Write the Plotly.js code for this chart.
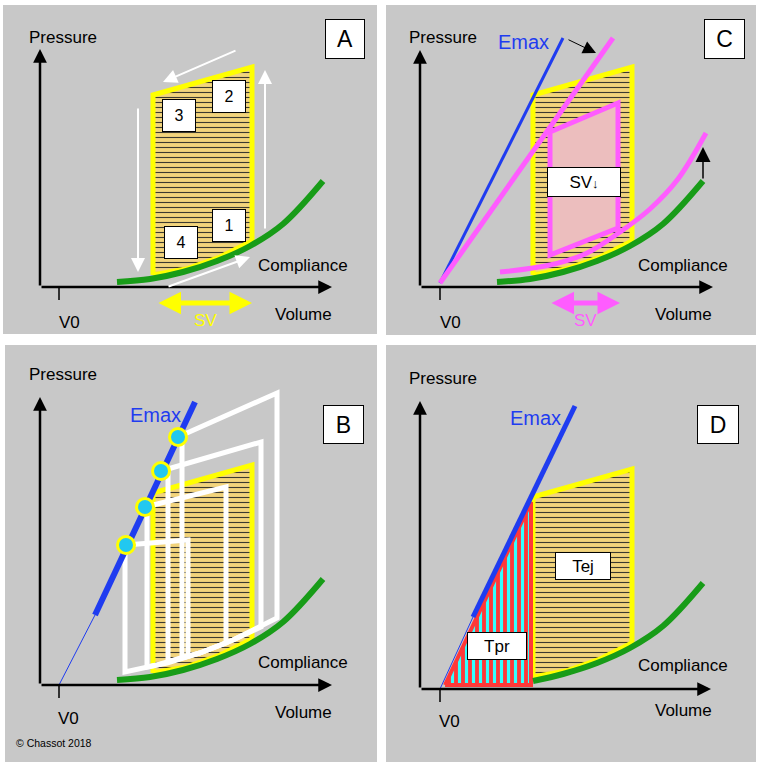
<!DOCTYPE html>
<html><head><meta charset="utf-8">
<script src="https://cdn.plot.ly/plotly-3.0.1.min.js"></script>
<style>html,body{margin:0;padding:0;background:#fff}#chart{width:766px;height:766px}</style>
</head><body><div id="chart"></div>
<script>
// ---------- schematic data (Volume, Pressure in arbitrary units; origin = axis origin) ----------
// shared end-diastolic compliance curve and the yellow reference P-V loop
const complianceV = [77, 110, 143, 177, 210, 243, 283];
const complianceP = [5, 8, 15, 26, 41, 63, 106];
const loopV = [113, 113, 212, 212, 180, 146, 113];
const loopP = [12, 192, 220, 46, 30, 18, 12];
const v0 = [19, 20, 19, 20];            // V0 position per panel (A, C, B, D)
const axisEndV = [292, 293, 292, 291];  // volume axis arrow tip
const axisEndP = [238, 237, 288, 288];  // pressure axis arrow tip

// Panel A: phases of the cycle
const phaseLabels = ['1', '2', '3', '4'];
const phaseV = [189, 189, 138.5, 140.5];
const phaseP = [61.5, 190.5, 171.5, 44.5];
const cycleTailV = [225, 197, 98, 127];
const cycleTailP = [57, 237, 180, 0];
const cycleHeadV = [225, 123, 98, 210];
const cycleHeadP = [217, 205, 15, 30];
const svA = [117, 212];

// Panel C: reduced contractility, stiffer ventricle
const emaxCV = [20, 143], emaxCP = [4, 249];
const emaxShiftV = [20, 193], emaxShiftP = [4, 249];
const pinkLoopV = [130, 198, 198, 130, 130];
const pinkLoopP = [155, 184, 59, 32, 155];
const complianceShiftV = [80, 130, 165, 200, 230, 258, 286];
const complianceShiftP = [15, 22, 33, 55, 78, 108, 154];
const svC = [130, 200];

// Panel B: family of loops on Emax
const emaxBThinV = [19, 55], emaxBThinP = [0, 70];
const emaxBV = [55, 155], emaxBP = [70, 283];
const endSystoleV = [86, 105, 121, 138];
const endSystoleP = [140, 178, 214, 248];
const whiteLoopsV = [
  [86, 148, 148, 117, 85, 85],
  [105, 186, 186, 160, 127, 107, 107],
  [121, 221, 221, 193, 160, 128, 128],
  [138, 237, 237, 193, 160, 142, 142]
];
const whiteLoopsP = [
  [140, 145, 29, 20, 13, 140],
  [178, 198, 42, 32, 22, 18, 179],
  [214, 243, 58, 45, 32, 23, 216],
  [248, 292, 67, 45, 32, 27, 250]
];

// Panel D: pressure-time (Tpr) and ejection (Tej) areas
const emaxDThinV = [20, 53], emaxDThinP = [0, 72];
const emaxDV = [53, 155], emaxDP = [72, 283];
const tprV = [25, 111, 111, 25], tprP = [4, 187, 4, 4];

// ---------- styles ----------
const FONT = 'Arial, "Liberation Sans", sans-serif';
const GREEN = '#189c18', YELLOW = '#ffff00', BLUE = '#1f3cf0', PINK = '#ff5cff';
const axIds = ['', '2', '3', '4'];   // A, C, B, D
const traces = [];
const ann = [];

function line(k, v, p, color, width, extra) {
  traces.push(Object.assign({
    x: v, y: p, xaxis: 'x' + axIds[k], yaxis: 'y' + axIds[k], mode: 'lines',
    line: {color: color, width: width}, hoverinfo: 'skip', showlegend: false
  }, extra || {}));
}
function label(k, v, p, txt, size, color, extra) {
  ann.push(Object.assign({
    xref: 'x' + axIds[k], yref: 'y' + axIds[k], x: v, y: p, text: txt, showarrow: false,
    font: {family: FONT, size: size, color: color || '#000'}, xanchor: 'center', yanchor: 'middle'
  }, extra || {}));
}
function box(k, v, p, txt, w, h, size) {
  label(k, v, p, txt, size, '#000', {bgcolor: '#fff', bordercolor: '#000', borderwidth: 1,
    borderpad: 0, width: w, height: h});
}
function arrow(k, tv, tp, hv, hp, color, width, size, dbl) {
  const a = {
    xref: 'x' + axIds[k], yref: 'y' + axIds[k], axref: 'x' + axIds[k], ayref: 'y' + axIds[k],
    x: hv, y: hp, ax: tv, ay: tp, text: '', showarrow: true,
    arrowcolor: color, arrowwidth: width, arrowhead: 2, arrowsize: size, standoff: 0
  };
  if (dbl) { a.arrowside = 'end+start'; a.startarrowhead = 2; a.startarrowsize = size; a.startstandoff = 0; }
  ann.push(a);
}
function yellowLoop(k) {
  line(k, loopV, loopP, YELLOW, 5, {fill: 'toself', fillcolor: '#f2d47c',
    fillpattern: {shape: '-', bgcolor: '#f2d47c', fgcolor: '#3c3a30', size: 5, solidity: 0.22}});
}
function frame(k, pressureLbl, volumeLbl, complianceLbl, v0Lbl) {
  arrow(k, 0, 0, 0, axisEndP[k], '#000', 2.5, 1.1);
  arrow(k, 0, 0, axisEndV[k], 0, '#000', 2.5, 1.1);
  line(k, [v0[k], v0[k]], [0, -13], '#000', 1.5);
  label(k, pressureLbl[0], pressureLbl[1], 'Pressure', 17);
  label(k, volumeLbl[0], volumeLbl[1], 'Volume', 17);
  label(k, complianceLbl[0], complianceLbl[1], 'Compliance', 17);
  label(k, v0Lbl[0], v0Lbl[1], 'V0', 17);
}
const SPLINE = (c, w) => ({line: {color: c, width: w, shape: 'spline', smoothing: 1}});

// ---------- Panel A ----------
yellowLoop(0);
line(0, complianceV, complianceP, GREEN, 6, SPLINE(GREEN, 6));
frame(0, [23, 249], [263, -27], [263, 22], [29, -35]);
for (let i = 0; i < cycleTailV.length; i++)
  arrow(0, cycleTailV[i], cycleTailP[i], cycleHeadV[i], cycleHeadP[i], '#fff', 2, 1.4);
for (let i = 0; i < phaseLabels.length; i++)
  box(0, phaseV[i], phaseP[i], phaseLabels[i], 32, 31, 16);
arrow(0, svA[0], -16, svA[1], -16, YELLOW, 5, 0.9, true);
label(0, (svA[0] + svA[1]) / 2 + 0.5, -33, 'SV', 17, YELLOW);
box(0, 305, 248, 'A', 38, 38, 23);

// ---------- Panel C ----------
yellowLoop(1);
line(1, pinkLoopV, pinkLoopP, PINK, 5, {fill: 'toself', fillcolor: '#ecbebe'});
line(1, complianceV, complianceP, GREEN, 6, SPLINE(GREEN, 6));
line(1, complianceShiftV, complianceShiftP, PINK, 5, SPLINE(PINK, 5));
line(1, emaxCV, emaxCP, BLUE, 3);
line(1, emaxShiftV, emaxShiftP, PINK, 5);
frame(1, [23, 249], [263, -27], [263, 22], [30, -35]);
label(1, 103, 245, 'Emax', 20, BLUE);
arrow(1, 147, 248, 176, 234, '#000', 1, 2.6);
arrow(1, 283, 107, 283, 140, '#000', 1.5, 2.0);
box(1, 164, 105, 'SV<span style="font-size:13px">↓</span>', 72, 28, 17);
arrow(1, svC[0], -16, svC[1], -16, PINK, 5, 0.9, true);
label(1, (svC[0] + svC[1]) / 2, -33, 'SV', 17, PINK);
box(1, 304.5, 248, 'C', 39, 38, 23);

// ---------- Panel B ----------
yellowLoop(2);
line(2, complianceV, complianceP, GREEN, 6, SPLINE(GREEN, 6));
for (let i = 0; i < whiteLoopsV.length; i++) line(2, whiteLoopsV[i], whiteLoopsP[i], '#fff', 5);
line(2, emaxBThinV, emaxBThinP, BLUE, 1);
line(2, emaxBV, emaxBP, BLUE, 6);
traces.push({x: endSystoleV, y: endSystoleP, xaxis: 'x3', yaxis: 'y3', mode: 'markers',
  marker: {size: 17, color: '#22c8f0', line: {color: YELLOW, width: 3}}, hoverinfo: 'skip', showlegend: false});
frame(2, [23, 311], [263, -27], [263, 23], [28, -33]);
label(2, 115, 270, 'Emax', 20, BLUE);
label(2, 14, -58, '© Chassot 2018', 10.5, '#000');
box(2, 303.5, 260.5, 'B', 39, 37, 23);

// ---------- Panel D ----------
yellowLoop(3);
line(3, tprV, tprP, '#ff3838', 4, {fill: 'toself', fillcolor: '#ff3838',
  fillpattern: {shape: '|', bgcolor: '#ff3838', fgcolor: '#33ffff', size: 7, solidity: 0.45}});
line(3, complianceV.slice(1).map((v, i) => i === 0 ? 113 : v), complianceP.slice(1), GREEN, 6, SPLINE(GREEN, 6));
line(3, emaxDThinV, emaxDThinP, BLUE, 1);
line(3, emaxDV, emaxDP, BLUE, 5);
frame(3, [23, 311], [263, -21], [263, 24], [29, -32]);
label(3, 115, 271, 'Emax', 20, BLUE);
box(3, 77, 43, 'Tpr', 58, 26, 17);
box(3, 163, 123, 'Tej', 54, 26, 17);
box(3, 298, 264.5, 'D', 40, 37, 23);

// ---------- layout ----------
function ax(domain, range) {
  return {domain: domain, range: range, visible: false, fixedrange: true};
}
const layout = {
  width: 766, height: 766, margin: {l: 0, r: 0, t: 0, b: 0},
  paper_bgcolor: '#ffffff', plot_bgcolor: '#c8c8c8', showlegend: false,
  font: {family: FONT},
  xaxis:  Object.assign(ax([3 / 766, 377 / 766], [-37, 337]), {anchor: 'y'}),
  yaxis:  Object.assign(ax([1 - 334 / 766, 1 - 5 / 766], [-47, 282]), {anchor: 'x'}),
  xaxis2: Object.assign(ax([386 / 766, 756 / 766], [-34, 336]), {anchor: 'y2'}),
  yaxis2: Object.assign(ax([1 - 335 / 766, 1 - 5 / 766], [-48, 282]), {anchor: 'x2'}),
  xaxis3: Object.assign(ax([5 / 766, 377 / 766], [-35, 337]), {anchor: 'y3'}),
  yaxis3: Object.assign(ax([1 - 762 / 766, 1 - 345 / 766], [-77, 340]), {anchor: 'x3'}),
  xaxis4: Object.assign(ax([386 / 766, 756 / 766], [-34, 336]), {anchor: 'y4'}),
  yaxis4: Object.assign(ax([1 - 762 / 766, 1 - 345 / 766], [-73, 344]), {anchor: 'x4'}),
  annotations: ann
};
Plotly.newPlot('chart', traces, layout, {staticPlot: true, displayModeBar: false});
</script></body></html>
